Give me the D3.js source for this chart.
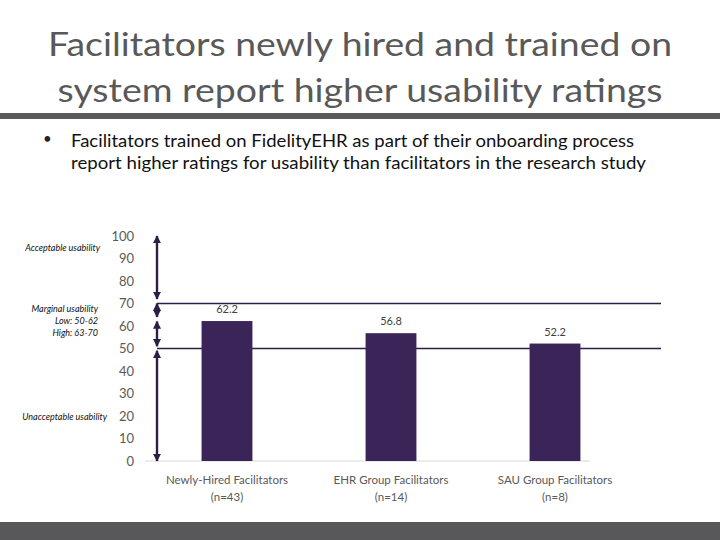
<!DOCTYPE html>
<html>
<head>
<meta charset="utf-8">
<script src="https://cdn.jsdelivr.net/npm/d3@7"></script>
<style>
  body { margin: 0; background: #fff; }
  svg { display: block; font-family: Lato, "Open Sans", sans-serif; }
</style>
</head>
<body>
<svg id="slide" width="720" height="540"></svg>
<script>
// chart values
var categories = ['Newly-Hired Facilitators', 'EHR Group Facilitators', 'SAU Group Facilitators'];
var sampleSizes = ['(n=43)', '(n=14)', '(n=8)'];
var scores = [62.2, 56.8, 52.2];
var yTicks = [0, 10, 20, 30, 40, 50, 60, 70, 80, 90, 100];
var thresholds = [50, 70];
// usability bands drawn as double arrows on the left
var bandStarts = [72, 64, 51, 0];
var bandEnds = [100, 70, 62, 49];

var titleLines = ['Facilitators newly hired and trained on', 'system report higher usability ratings'];
var bulletLines = ['Facilitators trained on FidelityEHR as part of their onboarding process',
  'report higher ratings for usability than facilitators in the research study'];

var svg = d3.select('#slide');
var dark = '#2b1f45', barColor = '#3b2458', grey = '#595959';

// stretch a text line to the given width (the slide font is wider per height than Lato)
function squeeze(sel, width) {
  sel.attr('textLength', width).attr('lengthAdjust', 'spacingAndGlyphs');
}

// title
svg.append('text').attr('x', 360).attr('y', 56).attr('text-anchor', 'middle')
  .attr('font-size', 33).attr('fill', grey).text(titleLines[0]).call(squeeze, 624);
svg.append('text').attr('x', 360).attr('y', 102).attr('text-anchor', 'middle')
  .attr('font-size', 33).attr('fill', grey).text(titleLines[1]).call(squeeze, 605);

svg.append('rect').attr('x', 0).attr('y', 113).attr('width', 720).attr('height', 6).attr('fill', grey);
svg.append('rect').attr('x', 0).attr('y', 522).attr('width', 720).attr('height', 18).attr('fill', '#58585a');

// bullet
svg.append('text').attr('x', 43).attr('y', 144).attr('font-size', 15).attr('fill', '#222').text('\u2022');
svg.append('text').attr('x', 71).attr('y', 147).attr('font-size', 16.5).attr('fill', '#111')
  .text(bulletLines[0]).call(squeeze, 563);
svg.append('text').attr('x', 71).attr('y', 169).attr('font-size', 16.5).attr('fill', '#111')
  .text(bulletLines[1]).call(squeeze, 575);

// scales
var y = d3.scaleLinear().domain([0, 100]).range([461, 236]);
var x = d3.scaleBand().domain(categories).range([145, 637]).paddingInner(0.69).paddingOuter(0.345);

// y axis labels
var yAxis = svg.append('g').attr('transform', 'translate(134,0)')
  .call(d3.axisLeft(y).tickValues(yTicks).tickSize(0).tickPadding(0));
yAxis.select('.domain').remove();
yAxis.selectAll('text').attr('font-size', 13).attr('fill', grey).attr('font-family', 'Lato, sans-serif');

// x baseline
svg.append('line').attr('x1', 145).attr('x2', 590).attr('y1', y(0)).attr('y2', y(0))
  .attr('stroke', '#d9d9d9').attr('stroke-width', 1.2);

// threshold lines
svg.selectAll('.threshold').data(thresholds).enter().append('line')
  .attr('class', 'threshold')
  .attr('x1', 157).attr('x2', 661)
  .attr('y1', function(d) { return y(d); }).attr('y2', function(d) { return y(d); })
  .attr('stroke', dark).attr('stroke-width', 1.3);

// bars
svg.selectAll('.bar').data(scores).enter().append('rect')
  .attr('class', 'bar')
  .attr('x', function(d, i) { return x(categories[i]); })
  .attr('width', x.bandwidth())
  .attr('y', function(d) { return y(d); })
  .attr('height', function(d) { return y(0) - y(d); })
  .attr('fill', barColor);

// value labels
svg.selectAll('.val').data(scores).enter().append('text')
  .attr('class', 'val')
  .attr('x', function(d, i) { return x(categories[i]) + x.bandwidth() / 2; })
  .attr('y', function(d) { return y(d) - 8; })
  .attr('text-anchor', 'middle').attr('font-size', 11).attr('fill', '#404040')
  .text(function(d) { return d.toFixed(1); });

// category labels
var cat = svg.selectAll('.cat').data(categories).enter().append('text')
  .attr('class', 'cat').attr('text-anchor', 'middle').attr('font-size', 11.5).attr('fill', grey);
cat.append('tspan')
  .attr('x', function(d) { return x(d) + x.bandwidth() / 2; }).attr('y', 484)
  .text(function(d) { return d; });
cat.append('tspan')
  .attr('x', function(d) { return x(d) + x.bandwidth() / 2; }).attr('y', 501)
  .text(function(d, i) { return sampleSizes[i]; });

// double arrows
svg.append('defs').append('marker')
  .attr('id', 'arrow').attr('viewBox', '0 0 10 10').attr('refX', 9).attr('refY', 5)
  .attr('markerWidth', 3.4).attr('markerHeight', 3.4).attr('orient', 'auto-start-reverse')
  .append('path').attr('d', 'M0,0L10,5L0,10Z').attr('fill', dark);

svg.selectAll('.band').data(bandStarts).enter().append('line')
  .attr('class', 'band')
  .attr('x1', 157).attr('x2', 157)
  .attr('y1', function(d) { return y(d); })
  .attr('y2', function(d, i) { return y(bandEnds[i]); })
  .attr('stroke', dark).attr('stroke-width', 2.4)
  .attr('marker-start', 'url(#arrow)').attr('marker-end', 'url(#arrow)');

// band notes
var notes = [
  { text: 'Acceptable usability', x: 100, y: 251 },
  { text: 'Marginal usability', x: 98, y: 312 },
  { text: 'Low: 50-62', x: 98, y: 324 },
  { text: 'High: 63-70', x: 98, y: 336 },
  { text: 'Unacceptable usability', x: 107, y: 420 }
];
svg.selectAll('.note').data(notes).enter().append('text')
  .attr('class', 'note')
  .attr('x', function(d) { return d.x; }).attr('y', function(d) { return d.y; })
  .attr('text-anchor', 'end').attr('font-size', 9).attr('font-style', 'italic').attr('fill', '#111')
  .text(function(d) { return d.text; });
</script>
</body>
</html>
